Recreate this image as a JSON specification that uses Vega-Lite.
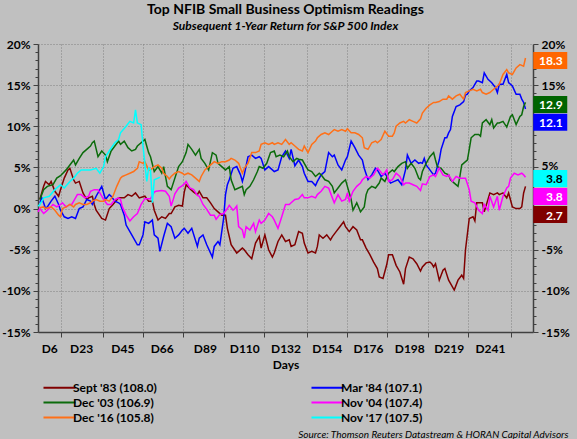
{
"$schema": "https://vega.github.io/schema/vega-lite/v6.json",
"width": 495, "height": 288,
"autosize": {"type": "none"},
"padding": {"left": 38, "top": 44, "right": 44, "bottom": 107},
"background": "#c0c0c0",
"config": {
  "view": {"stroke": null},
  "font": "Lato",
  "axis": {"labelFont": "Lato", "labelFontSize": 12, "labelFontWeight": "bold", "labelColor": "#000000", "titleFont": "Lato", "titleFontSize": 12, "titleFontWeight": "bold", "titleColor": "#000000", "domainColor": "#404040", "domainWidth": 1.5, "tickColor": "#404040", "gridColor": "#808080", "gridDash": [1, 2], "labelOverlap": false, "labelFlush": false, "labelBound": false}
},
"title": {"text": "Top NFIB Small Business Optimism Readings", "subtitle": "Subsequent 1-Year Return for S&P 500 Index", "font": "Lato", "fontSize": 14, "fontWeight": "bold", "color": "#000000", "subtitleFont": "Lato", "subtitleFontSize": 12, "subtitleFontStyle": "italic", "subtitleFontWeight": "bold", "subtitleColor": "#000000", "subtitlePadding": 4, "anchor": "middle", "frame": "group", "offset": 6},
"datasets": {
"series": [
{"s":"Sept '83 (108.0)","d":1,"v":1.1},{"s":"Sept '83 (108.0)","d":3,"v":2.7},{"s":"Sept '83 (108.0)","d":4,"v":3.3},{"s":"Sept '83 (108.0)","d":6,"v":2.9},{"s":"Sept '83 (108.0)","d":7,"v":3.3},{"s":"Sept '83 (108.0)","d":9,"v":2.1},{"s":"Sept '83 (108.0)","d":11,"v":1.5},{"s":"Sept '83 (108.0)","d":12,"v":2.3},{"s":"Sept '83 (108.0)","d":14,"v":3.7},{"s":"Sept '83 (108.0)","d":16,"v":4.7},{"s":"Sept '83 (108.0)","d":17,"v":4.9},{"s":"Sept '83 (108.0)","d":19,"v":3.5},{"s":"Sept '83 (108.0)","d":20,"v":3.1},{"s":"Sept '83 (108.0)","d":22,"v":3.3},{"s":"Sept '83 (108.0)","d":24,"v":1.9},{"s":"Sept '83 (108.0)","d":26,"v":1.1},{"s":"Sept '83 (108.0)","d":27,"v":1.3},{"s":"Sept '83 (108.0)","d":29,"v":1.5},{"s":"Sept '83 (108.0)","d":30,"v":0.5},{"s":"Sept '83 (108.0)","d":31,"v":-0.2},{"s":"Sept '83 (108.0)","d":34,"v":-1.2},{"s":"Sept '83 (108.0)","d":36,"v":-1.4},{"s":"Sept '83 (108.0)","d":38,"v":0.0},{"s":"Sept '83 (108.0)","d":40,"v":0.5},{"s":"Sept '83 (108.0)","d":43,"v":1.3},{"s":"Sept '83 (108.0)","d":46,"v":1.3},{"s":"Sept '83 (108.0)","d":48,"v":1.7},{"s":"Sept '83 (108.0)","d":50,"v":1.5},{"s":"Sept '83 (108.0)","d":52,"v":1.9},{"s":"Sept '83 (108.0)","d":54,"v":1.3},{"s":"Sept '83 (108.0)","d":57,"v":1.5},{"s":"Sept '83 (108.0)","d":59,"v":0.9},{"s":"Sept '83 (108.0)","d":61,"v":0.9},{"s":"Sept '83 (108.0)","d":62,"v":-0.2},{"s":"Sept '83 (108.0)","d":64,"v":-1.4},{"s":"Sept '83 (108.0)","d":66,"v":-1.0},{"s":"Sept '83 (108.0)","d":68,"v":-1.2},{"s":"Sept '83 (108.0)","d":70,"v":-0.6},{"s":"Sept '83 (108.0)","d":71,"v":-0.6},{"s":"Sept '83 (108.0)","d":73,"v":0.2},{"s":"Sept '83 (108.0)","d":75,"v":0.4},{"s":"Sept '83 (108.0)","d":77,"v":0.3},{"s":"Sept '83 (108.0)","d":78,"v":2.0},{"s":"Sept '83 (108.0)","d":79,"v":2.9},{"s":"Sept '83 (108.0)","d":81,"v":2.4},{"s":"Sept '83 (108.0)","d":83,"v":2.0},{"s":"Sept '83 (108.0)","d":85,"v":1.7},{"s":"Sept '83 (108.0)","d":86,"v":2.1},{"s":"Sept '83 (108.0)","d":88,"v":1.3},{"s":"Sept '83 (108.0)","d":90,"v":1.3},{"s":"Sept '83 (108.0)","d":92,"v":0.7},{"s":"Sept '83 (108.0)","d":94,"v":0.0},{"s":"Sept '83 (108.0)","d":96,"v":-0.4},{"s":"Sept '83 (108.0)","d":98,"v":-0.8},{"s":"Sept '83 (108.0)","d":100,"v":-0.8},{"s":"Sept '83 (108.0)","d":101,"v":-2.4},{"s":"Sept '83 (108.0)","d":103,"v":-4.4},{"s":"Sept '83 (108.0)","d":106,"v":-5.4},{"s":"Sept '83 (108.0)","d":107,"v":-5.2},{"s":"Sept '83 (108.0)","d":109,"v":-4.8},{"s":"Sept '83 (108.0)","d":110,"v":-5.0},{"s":"Sept '83 (108.0)","d":112,"v":-5.6},{"s":"Sept '83 (108.0)","d":114,"v":-6.1},{"s":"Sept '83 (108.0)","d":116,"v":-4.2},{"s":"Sept '83 (108.0)","d":118,"v":-3.4},{"s":"Sept '83 (108.0)","d":119,"v":-4.8},{"s":"Sept '83 (108.0)","d":121,"v":-3.2},{"s":"Sept '83 (108.0)","d":123,"v":-5.0},{"s":"Sept '83 (108.0)","d":125,"v":-5.9},{"s":"Sept '83 (108.0)","d":126,"v":-5.4},{"s":"Sept '83 (108.0)","d":128,"v":-4.0},{"s":"Sept '83 (108.0)","d":130,"v":-3.2},{"s":"Sept '83 (108.0)","d":132,"v":-4.0},{"s":"Sept '83 (108.0)","d":134,"v":-3.8},{"s":"Sept '83 (108.0)","d":135,"v":-4.6},{"s":"Sept '83 (108.0)","d":137,"v":-4.4},{"s":"Sept '83 (108.0)","d":139,"v":-2.8},{"s":"Sept '83 (108.0)","d":141,"v":-3.0},{"s":"Sept '83 (108.0)","d":142,"v":-4.2},{"s":"Sept '83 (108.0)","d":144,"v":-5.4},{"s":"Sept '83 (108.0)","d":146,"v":-5.2},{"s":"Sept '83 (108.0)","d":148,"v":-5.4},{"s":"Sept '83 (108.0)","d":149,"v":-4.6},{"s":"Sept '83 (108.0)","d":150,"v":-3.2},{"s":"Sept '83 (108.0)","d":152,"v":-3.6},{"s":"Sept '83 (108.0)","d":154,"v":-3.2},{"s":"Sept '83 (108.0)","d":156,"v":-3.8},{"s":"Sept '83 (108.0)","d":157,"v":-3.4},{"s":"Sept '83 (108.0)","d":159,"v":-2.8},{"s":"Sept '83 (108.0)","d":161,"v":-2.2},{"s":"Sept '83 (108.0)","d":163,"v":-1.6},{"s":"Sept '83 (108.0)","d":164,"v":-2.2},{"s":"Sept '83 (108.0)","d":166,"v":-2.8},{"s":"Sept '83 (108.0)","d":168,"v":-2.2},{"s":"Sept '83 (108.0)","d":170,"v":-2.6},{"s":"Sept '83 (108.0)","d":172,"v":-3.8},{"s":"Sept '83 (108.0)","d":173,"v":-3.8},{"s":"Sept '83 (108.0)","d":175,"v":-4.8},{"s":"Sept '83 (108.0)","d":177,"v":-5.6},{"s":"Sept '83 (108.0)","d":179,"v":-6.5},{"s":"Sept '83 (108.0)","d":181,"v":-7.3},{"s":"Sept '83 (108.0)","d":182,"v":-8.3},{"s":"Sept '83 (108.0)","d":184,"v":-8.5},{"s":"Sept '83 (108.0)","d":186,"v":-6.8},{"s":"Sept '83 (108.0)","d":187,"v":-5.6},{"s":"Sept '83 (108.0)","d":189,"v":-5.6},{"s":"Sept '83 (108.0)","d":191,"v":-6.9},{"s":"Sept '83 (108.0)","d":193,"v":-7.7},{"s":"Sept '83 (108.0)","d":195,"v":-9.2},{"s":"Sept '83 (108.0)","d":196,"v":-7.3},{"s":"Sept '83 (108.0)","d":198,"v":-5.9},{"s":"Sept '83 (108.0)","d":200,"v":-6.1},{"s":"Sept '83 (108.0)","d":202,"v":-6.7},{"s":"Sept '83 (108.0)","d":204,"v":-7.6},{"s":"Sept '83 (108.0)","d":205,"v":-7.1},{"s":"Sept '83 (108.0)","d":207,"v":-6.6},{"s":"Sept '83 (108.0)","d":209,"v":-6.5},{"s":"Sept '83 (108.0)","d":210,"v":-6.7},{"s":"Sept '83 (108.0)","d":211,"v":-7.1},{"s":"Sept '83 (108.0)","d":212,"v":-6.7},{"s":"Sept '83 (108.0)","d":214,"v":-8.7},{"s":"Sept '83 (108.0)","d":216,"v":-7.5},{"s":"Sept '83 (108.0)","d":217,"v":-7.3},{"s":"Sept '83 (108.0)","d":219,"v":-8.7},{"s":"Sept '83 (108.0)","d":222,"v":-9.9},{"s":"Sept '83 (108.0)","d":224,"v":-8.7},{"s":"Sept '83 (108.0)","d":226,"v":-8.1},{"s":"Sept '83 (108.0)","d":227,"v":-8.5},{"s":"Sept '83 (108.0)","d":228,"v":-5.0},{"s":"Sept '83 (108.0)","d":230,"v":-1.2},{"s":"Sept '83 (108.0)","d":232,"v":-1.0},{"s":"Sept '83 (108.0)","d":233,"v":-1.5},{"s":"Sept '83 (108.0)","d":234,"v":0.7},{"s":"Sept '83 (108.0)","d":237,"v":0.7},{"s":"Sept '83 (108.0)","d":238,"v":-0.4},{"s":"Sept '83 (108.0)","d":241,"v":1.9},{"s":"Sept '83 (108.0)","d":243,"v":1.7},{"s":"Sept '83 (108.0)","d":245,"v":1.9},{"s":"Sept '83 (108.0)","d":246,"v":1.7},{"s":"Sept '83 (108.0)","d":248,"v":1.9},{"s":"Sept '83 (108.0)","d":250,"v":1.3},{"s":"Sept '83 (108.0)","d":251,"v":1.9},{"s":"Sept '83 (108.0)","d":253,"v":0.2},{"s":"Sept '83 (108.0)","d":255,"v":0.0},{"s":"Sept '83 (108.0)","d":257,"v":0.0},{"s":"Sept '83 (108.0)","d":258,"v":0.2},{"s":"Sept '83 (108.0)","d":259,"v":1.9},{"s":"Sept '83 (108.0)","d":260,"v":2.7},
{"s":"Mar '84 (107.1)","d":1,"v":0.7},{"s":"Mar '84 (107.1)","d":2,"v":1.3},{"s":"Mar '84 (107.1)","d":3,"v":0.7},{"s":"Mar '84 (107.1)","d":4,"v":0.0},{"s":"Mar '84 (107.1)","d":5,"v":0.2},{"s":"Mar '84 (107.1)","d":7,"v":0.9},{"s":"Mar '84 (107.1)","d":9,"v":1.5},{"s":"Mar '84 (107.1)","d":11,"v":0.5},{"s":"Mar '84 (107.1)","d":12,"v":-0.2},{"s":"Mar '84 (107.1)","d":14,"v":-1.0},{"s":"Mar '84 (107.1)","d":16,"v":-1.2},{"s":"Mar '84 (107.1)","d":18,"v":-1.0},{"s":"Mar '84 (107.1)","d":20,"v":-1.2},{"s":"Mar '84 (107.1)","d":21,"v":-0.6},{"s":"Mar '84 (107.1)","d":22,"v":0.0},{"s":"Mar '84 (107.1)","d":24,"v":0.2},{"s":"Mar '84 (107.1)","d":26,"v":1.1},{"s":"Mar '84 (107.1)","d":28,"v":0.9},{"s":"Mar '84 (107.1)","d":29,"v":0.5},{"s":"Mar '84 (107.1)","d":31,"v":1.5},{"s":"Mar '84 (107.1)","d":33,"v":2.3},{"s":"Mar '84 (107.1)","d":34,"v":2.7},{"s":"Mar '84 (107.1)","d":35,"v":1.9},{"s":"Mar '84 (107.1)","d":36,"v":1.1},{"s":"Mar '84 (107.1)","d":38,"v":1.7},{"s":"Mar '84 (107.1)","d":39,"v":1.5},{"s":"Mar '84 (107.1)","d":41,"v":0.9},{"s":"Mar '84 (107.1)","d":43,"v":0.7},{"s":"Mar '84 (107.1)","d":44,"v":0.5},{"s":"Mar '84 (107.1)","d":46,"v":-0.8},{"s":"Mar '84 (107.1)","d":47,"v":-2.0},{"s":"Mar '84 (107.1)","d":50,"v":-3.2},{"s":"Mar '84 (107.1)","d":53,"v":-4.4},{"s":"Mar '84 (107.1)","d":54,"v":-4.4},{"s":"Mar '84 (107.1)","d":56,"v":-3.2},{"s":"Mar '84 (107.1)","d":57,"v":-1.6},{"s":"Mar '84 (107.1)","d":59,"v":-1.8},{"s":"Mar '84 (107.1)","d":61,"v":-1.4},{"s":"Mar '84 (107.1)","d":62,"v":-3.2},{"s":"Mar '84 (107.1)","d":64,"v":-3.6},{"s":"Mar '84 (107.1)","d":65,"v":-5.2},{"s":"Mar '84 (107.1)","d":67,"v":-3.4},{"s":"Mar '84 (107.1)","d":69,"v":-1.8},{"s":"Mar '84 (107.1)","d":71,"v":-2.2},{"s":"Mar '84 (107.1)","d":73,"v":-3.6},{"s":"Mar '84 (107.1)","d":75,"v":-3.2},{"s":"Mar '84 (107.1)","d":77,"v":-2.6},{"s":"Mar '84 (107.1)","d":78,"v":-2.4},{"s":"Mar '84 (107.1)","d":80,"v":-3.0},{"s":"Mar '84 (107.1)","d":82,"v":-2.4},{"s":"Mar '84 (107.1)","d":85,"v":-4.6},{"s":"Mar '84 (107.1)","d":86,"v":-3.6},{"s":"Mar '84 (107.1)","d":88,"v":-3.2},{"s":"Mar '84 (107.1)","d":90,"v":-4.4},{"s":"Mar '84 (107.1)","d":93,"v":-5.9},{"s":"Mar '84 (107.1)","d":94,"v":-4.6},{"s":"Mar '84 (107.1)","d":96,"v":-4.0},{"s":"Mar '84 (107.1)","d":97,"v":-4.4},{"s":"Mar '84 (107.1)","d":99,"v":-1.2},{"s":"Mar '84 (107.1)","d":100,"v":1.7},{"s":"Mar '84 (107.1)","d":101,"v":2.9},{"s":"Mar '84 (107.1)","d":102,"v":3.5},{"s":"Mar '84 (107.1)","d":104,"v":4.9},{"s":"Mar '84 (107.1)","d":106,"v":5.1},{"s":"Mar '84 (107.1)","d":108,"v":4.1},{"s":"Mar '84 (107.1)","d":109,"v":3.3},{"s":"Mar '84 (107.1)","d":110,"v":4.1},{"s":"Mar '84 (107.1)","d":112,"v":6.3},{"s":"Mar '84 (107.1)","d":114,"v":6.5},{"s":"Mar '84 (107.1)","d":116,"v":6.1},{"s":"Mar '84 (107.1)","d":118,"v":6.3},{"s":"Mar '84 (107.1)","d":119,"v":6.1},{"s":"Mar '84 (107.1)","d":121,"v":4.7},{"s":"Mar '84 (107.1)","d":123,"v":5.1},{"s":"Mar '84 (107.1)","d":125,"v":4.7},{"s":"Mar '84 (107.1)","d":126,"v":4.5},{"s":"Mar '84 (107.1)","d":128,"v":4.7},{"s":"Mar '84 (107.1)","d":130,"v":6.3},{"s":"Mar '84 (107.1)","d":132,"v":7.0},{"s":"Mar '84 (107.1)","d":134,"v":6.1},{"s":"Mar '84 (107.1)","d":135,"v":7.2},{"s":"Mar '84 (107.1)","d":137,"v":5.2},{"s":"Mar '84 (107.1)","d":139,"v":5.9},{"s":"Mar '84 (107.1)","d":141,"v":5.1},{"s":"Mar '84 (107.1)","d":142,"v":4.3},{"s":"Mar '84 (107.1)","d":144,"v":3.3},{"s":"Mar '84 (107.1)","d":146,"v":3.3},{"s":"Mar '84 (107.1)","d":148,"v":2.8},{"s":"Mar '84 (107.1)","d":149,"v":3.3},{"s":"Mar '84 (107.1)","d":151,"v":4.1},{"s":"Mar '84 (107.1)","d":153,"v":4.5},{"s":"Mar '84 (107.1)","d":155,"v":6.8},{"s":"Mar '84 (107.1)","d":157,"v":6.3},{"s":"Mar '84 (107.1)","d":158,"v":6.5},{"s":"Mar '84 (107.1)","d":160,"v":5.3},{"s":"Mar '84 (107.1)","d":162,"v":4.7},{"s":"Mar '84 (107.1)","d":164,"v":5.9},{"s":"Mar '84 (107.1)","d":165,"v":6.3},{"s":"Mar '84 (107.1)","d":167,"v":8.2},{"s":"Mar '84 (107.1)","d":169,"v":7.4},{"s":"Mar '84 (107.1)","d":171,"v":6.5},{"s":"Mar '84 (107.1)","d":173,"v":5.9},{"s":"Mar '84 (107.1)","d":174,"v":4.9},{"s":"Mar '84 (107.1)","d":176,"v":3.5},{"s":"Mar '84 (107.1)","d":178,"v":4.1},{"s":"Mar '84 (107.1)","d":180,"v":4.9},{"s":"Mar '84 (107.1)","d":181,"v":4.7},{"s":"Mar '84 (107.1)","d":183,"v":3.9},{"s":"Mar '84 (107.1)","d":185,"v":4.3},{"s":"Mar '84 (107.1)","d":186,"v":3.9},{"s":"Mar '84 (107.1)","d":188,"v":3.1},{"s":"Mar '84 (107.1)","d":190,"v":3.3},{"s":"Mar '84 (107.1)","d":192,"v":3.5},{"s":"Mar '84 (107.1)","d":194,"v":2.9},{"s":"Mar '84 (107.1)","d":196,"v":4.7},{"s":"Mar '84 (107.1)","d":197,"v":6.5},{"s":"Mar '84 (107.1)","d":199,"v":5.5},{"s":"Mar '84 (107.1)","d":201,"v":5.9},{"s":"Mar '84 (107.1)","d":203,"v":5.5},{"s":"Mar '84 (107.1)","d":204,"v":5.6},{"s":"Mar '84 (107.1)","d":205,"v":5.5},{"s":"Mar '84 (107.1)","d":206,"v":6.1},{"s":"Mar '84 (107.1)","d":207,"v":5.3},{"s":"Mar '84 (107.1)","d":209,"v":4.7},{"s":"Mar '84 (107.1)","d":211,"v":4.1},{"s":"Mar '84 (107.1)","d":212,"v":4.3},{"s":"Mar '84 (107.1)","d":214,"v":5.9},{"s":"Mar '84 (107.1)","d":215,"v":7.2},{"s":"Mar '84 (107.1)","d":217,"v":8.6},{"s":"Mar '84 (107.1)","d":218,"v":8.6},{"s":"Mar '84 (107.1)","d":219,"v":9.2},{"s":"Mar '84 (107.1)","d":220,"v":9.6},{"s":"Mar '84 (107.1)","d":221,"v":11.2},{"s":"Mar '84 (107.1)","d":223,"v":12.4},{"s":"Mar '84 (107.1)","d":225,"v":12.6},{"s":"Mar '84 (107.1)","d":227,"v":13.0},{"s":"Mar '84 (107.1)","d":228,"v":13.8},{"s":"Mar '84 (107.1)","d":229,"v":13.9},{"s":"Mar '84 (107.1)","d":230,"v":14.3},{"s":"Mar '84 (107.1)","d":232,"v":14.7},{"s":"Mar '84 (107.1)","d":234,"v":15.5},{"s":"Mar '84 (107.1)","d":235,"v":15.5},{"s":"Mar '84 (107.1)","d":237,"v":15.3},{"s":"Mar '84 (107.1)","d":238,"v":16.5},{"s":"Mar '84 (107.1)","d":240,"v":15.7},{"s":"Mar '84 (107.1)","d":242,"v":15.3},{"s":"Mar '84 (107.1)","d":244,"v":14.7},{"s":"Mar '84 (107.1)","d":245,"v":14.1},{"s":"Mar '84 (107.1)","d":246,"v":15.1},{"s":"Mar '84 (107.1)","d":248,"v":15.1},{"s":"Mar '84 (107.1)","d":250,"v":16.3},{"s":"Mar '84 (107.1)","d":251,"v":15.3},{"s":"Mar '84 (107.1)","d":253,"v":14.9},{"s":"Mar '84 (107.1)","d":255,"v":13.9},{"s":"Mar '84 (107.1)","d":257,"v":13.9},{"s":"Mar '84 (107.1)","d":258,"v":13.3},{"s":"Mar '84 (107.1)","d":259,"v":12.9},{"s":"Mar '84 (107.1)","d":260,"v":12.1},
{"s":"Dec '03 (106.9)","d":1,"v":1.1},{"s":"Dec '03 (106.9)","d":3,"v":2.3},{"s":"Dec '03 (106.9)","d":5,"v":2.7},{"s":"Dec '03 (106.9)","d":8,"v":2.9},{"s":"Dec '03 (106.9)","d":10,"v":3.7},{"s":"Dec '03 (106.9)","d":12,"v":4.0},{"s":"Dec '03 (106.9)","d":15,"v":4.7},{"s":"Dec '03 (106.9)","d":17,"v":5.3},{"s":"Dec '03 (106.9)","d":19,"v":5.9},{"s":"Dec '03 (106.9)","d":20,"v":5.3},{"s":"Dec '03 (106.9)","d":22,"v":6.1},{"s":"Dec '03 (106.9)","d":24,"v":6.8},{"s":"Dec '03 (106.9)","d":26,"v":7.2},{"s":"Dec '03 (106.9)","d":28,"v":7.6},{"s":"Dec '03 (106.9)","d":29,"v":8.0},{"s":"Dec '03 (106.9)","d":30,"v":8.2},{"s":"Dec '03 (106.9)","d":32,"v":6.3},{"s":"Dec '03 (106.9)","d":34,"v":7.0},{"s":"Dec '03 (106.9)","d":36,"v":6.5},{"s":"Dec '03 (106.9)","d":37,"v":5.7},{"s":"Dec '03 (106.9)","d":39,"v":7.0},{"s":"Dec '03 (106.9)","d":41,"v":7.6},{"s":"Dec '03 (106.9)","d":43,"v":8.2},{"s":"Dec '03 (106.9)","d":44,"v":7.8},{"s":"Dec '03 (106.9)","d":46,"v":8.2},{"s":"Dec '03 (106.9)","d":48,"v":7.4},{"s":"Dec '03 (106.9)","d":50,"v":7.0},{"s":"Dec '03 (106.9)","d":52,"v":7.2},{"s":"Dec '03 (106.9)","d":53,"v":7.6},{"s":"Dec '03 (106.9)","d":55,"v":8.0},{"s":"Dec '03 (106.9)","d":57,"v":8.4},{"s":"Dec '03 (106.9)","d":59,"v":6.8},{"s":"Dec '03 (106.9)","d":60,"v":6.3},{"s":"Dec '03 (106.9)","d":62,"v":4.5},{"s":"Dec '03 (106.9)","d":64,"v":5.1},{"s":"Dec '03 (106.9)","d":66,"v":4.3},{"s":"Dec '03 (106.9)","d":67,"v":5.1},{"s":"Dec '03 (106.9)","d":69,"v":2.7},{"s":"Dec '03 (106.9)","d":71,"v":2.3},{"s":"Dec '03 (106.9)","d":73,"v":3.7},{"s":"Dec '03 (106.9)","d":75,"v":5.1},{"s":"Dec '03 (106.9)","d":77,"v":5.7},{"s":"Dec '03 (106.9)","d":79,"v":6.8},{"s":"Dec '03 (106.9)","d":80,"v":7.8},{"s":"Dec '03 (106.9)","d":82,"v":7.2},{"s":"Dec '03 (106.9)","d":84,"v":6.5},{"s":"Dec '03 (106.9)","d":86,"v":7.2},{"s":"Dec '03 (106.9)","d":87,"v":6.1},{"s":"Dec '03 (106.9)","d":89,"v":5.5},{"s":"Dec '03 (106.9)","d":91,"v":4.7},{"s":"Dec '03 (106.9)","d":93,"v":6.8},{"s":"Dec '03 (106.9)","d":95,"v":6.5},{"s":"Dec '03 (106.9)","d":96,"v":5.5},{"s":"Dec '03 (106.9)","d":98,"v":5.1},{"s":"Dec '03 (106.9)","d":100,"v":4.7},{"s":"Dec '03 (106.9)","d":102,"v":5.1},{"s":"Dec '03 (106.9)","d":103,"v":3.5},{"s":"Dec '03 (106.9)","d":105,"v":2.3},{"s":"Dec '03 (106.9)","d":107,"v":2.5},{"s":"Dec '03 (106.9)","d":109,"v":2.7},{"s":"Dec '03 (106.9)","d":110,"v":1.7},{"s":"Dec '03 (106.9)","d":111,"v":2.3},{"s":"Dec '03 (106.9)","d":113,"v":2.7},{"s":"Dec '03 (106.9)","d":115,"v":3.5},{"s":"Dec '03 (106.9)","d":117,"v":4.5},{"s":"Dec '03 (106.9)","d":118,"v":5.1},{"s":"Dec '03 (106.9)","d":120,"v":4.9},{"s":"Dec '03 (106.9)","d":122,"v":5.5},{"s":"Dec '03 (106.9)","d":124,"v":6.8},{"s":"Dec '03 (106.9)","d":126,"v":7.0},{"s":"Dec '03 (106.9)","d":127,"v":6.3},{"s":"Dec '03 (106.9)","d":129,"v":6.5},{"s":"Dec '03 (106.9)","d":131,"v":6.3},{"s":"Dec '03 (106.9)","d":133,"v":7.0},{"s":"Dec '03 (106.9)","d":134,"v":6.3},{"s":"Dec '03 (106.9)","d":136,"v":5.7},{"s":"Dec '03 (106.9)","d":138,"v":6.1},{"s":"Dec '03 (106.9)","d":139,"v":6.0},{"s":"Dec '03 (106.9)","d":141,"v":5.9},{"s":"Dec '03 (106.9)","d":142,"v":5.5},{"s":"Dec '03 (106.9)","d":144,"v":4.7},{"s":"Dec '03 (106.9)","d":146,"v":4.5},{"s":"Dec '03 (106.9)","d":148,"v":3.9},{"s":"Dec '03 (106.9)","d":150,"v":4.3},{"s":"Dec '03 (106.9)","d":151,"v":4.1},{"s":"Dec '03 (106.9)","d":153,"v":3.5},{"s":"Dec '03 (106.9)","d":155,"v":3.3},{"s":"Dec '03 (106.9)","d":157,"v":2.7},{"s":"Dec '03 (106.9)","d":158,"v":1.9},{"s":"Dec '03 (106.9)","d":160,"v":2.5},{"s":"Dec '03 (106.9)","d":162,"v":3.1},{"s":"Dec '03 (106.9)","d":164,"v":3.5},{"s":"Dec '03 (106.9)","d":165,"v":2.7},{"s":"Dec '03 (106.9)","d":167,"v":1.1},{"s":"Dec '03 (106.9)","d":168,"v":-0.2},{"s":"Dec '03 (106.9)","d":170,"v":0.7},{"s":"Dec '03 (106.9)","d":172,"v":-0.4},{"s":"Dec '03 (106.9)","d":174,"v":0.2},{"s":"Dec '03 (106.9)","d":175,"v":1.7},{"s":"Dec '03 (106.9)","d":176,"v":2.3},{"s":"Dec '03 (106.9)","d":178,"v":2.7},{"s":"Dec '03 (106.9)","d":180,"v":2.5},{"s":"Dec '03 (106.9)","d":182,"v":3.1},{"s":"Dec '03 (106.9)","d":183,"v":3.7},{"s":"Dec '03 (106.9)","d":185,"v":3.3},{"s":"Dec '03 (106.9)","d":187,"v":4.3},{"s":"Dec '03 (106.9)","d":189,"v":4.7},{"s":"Dec '03 (106.9)","d":190,"v":4.5},{"s":"Dec '03 (106.9)","d":192,"v":5.1},{"s":"Dec '03 (106.9)","d":194,"v":5.5},{"s":"Dec '03 (106.9)","d":196,"v":5.7},{"s":"Dec '03 (106.9)","d":197,"v":4.9},{"s":"Dec '03 (106.9)","d":199,"v":5.5},{"s":"Dec '03 (106.9)","d":201,"v":4.9},{"s":"Dec '03 (106.9)","d":203,"v":3.7},{"s":"Dec '03 (106.9)","d":204,"v":3.5},{"s":"Dec '03 (106.9)","d":205,"v":4.5},{"s":"Dec '03 (106.9)","d":207,"v":5.5},{"s":"Dec '03 (106.9)","d":209,"v":6.3},{"s":"Dec '03 (106.9)","d":211,"v":6.8},{"s":"Dec '03 (106.9)","d":212,"v":5.9},{"s":"Dec '03 (106.9)","d":213,"v":5.1},{"s":"Dec '03 (106.9)","d":215,"v":4.9},{"s":"Dec '03 (106.9)","d":217,"v":4.3},{"s":"Dec '03 (106.9)","d":219,"v":4.1},{"s":"Dec '03 (106.9)","d":220,"v":3.5},{"s":"Dec '03 (106.9)","d":222,"v":3.1},{"s":"Dec '03 (106.9)","d":224,"v":2.7},{"s":"Dec '03 (106.9)","d":225,"v":3.9},{"s":"Dec '03 (106.9)","d":226,"v":5.3},{"s":"Dec '03 (106.9)","d":228,"v":5.7},{"s":"Dec '03 (106.9)","d":229,"v":5.9},{"s":"Dec '03 (106.9)","d":230,"v":7.2},{"s":"Dec '03 (106.9)","d":231,"v":8.6},{"s":"Dec '03 (106.9)","d":233,"v":9.0},{"s":"Dec '03 (106.9)","d":235,"v":9.0},{"s":"Dec '03 (106.9)","d":236,"v":8.8},{"s":"Dec '03 (106.9)","d":237,"v":10.4},{"s":"Dec '03 (106.9)","d":239,"v":10.8},{"s":"Dec '03 (106.9)","d":241,"v":10.2},{"s":"Dec '03 (106.9)","d":242,"v":10.8},{"s":"Dec '03 (106.9)","d":243,"v":9.8},{"s":"Dec '03 (106.9)","d":245,"v":10.4},{"s":"Dec '03 (106.9)","d":246,"v":10.4},{"s":"Dec '03 (106.9)","d":248,"v":10.6},{"s":"Dec '03 (106.9)","d":250,"v":9.9},{"s":"Dec '03 (106.9)","d":252,"v":11.2},{"s":"Dec '03 (106.9)","d":253,"v":11.4},{"s":"Dec '03 (106.9)","d":255,"v":10.2},{"s":"Dec '03 (106.9)","d":257,"v":11.2},{"s":"Dec '03 (106.9)","d":258,"v":11.4},{"s":"Dec '03 (106.9)","d":259,"v":12.4},{"s":"Dec '03 (106.9)","d":260,"v":12.9},
{"s":"Nov '04 (107.4)","d":0,"v":-0.4},{"s":"Nov '04 (107.4)","d":1,"v":0.0},{"s":"Nov '04 (107.4)","d":3,"v":-0.6},{"s":"Nov '04 (107.4)","d":4,"v":-0.4},{"s":"Nov '04 (107.4)","d":6,"v":0.0},{"s":"Nov '04 (107.4)","d":8,"v":0.5},{"s":"Nov '04 (107.4)","d":10,"v":0.2},{"s":"Nov '04 (107.4)","d":12,"v":0.5},{"s":"Nov '04 (107.4)","d":13,"v":0.7},{"s":"Nov '04 (107.4)","d":15,"v":0.2},{"s":"Nov '04 (107.4)","d":17,"v":0.5},{"s":"Nov '04 (107.4)","d":18,"v":0.5},{"s":"Nov '04 (107.4)","d":20,"v":1.3},{"s":"Nov '04 (107.4)","d":21,"v":1.7},{"s":"Nov '04 (107.4)","d":23,"v":1.7},{"s":"Nov '04 (107.4)","d":25,"v":1.3},{"s":"Nov '04 (107.4)","d":27,"v":1.5},{"s":"Nov '04 (107.4)","d":28,"v":2.1},{"s":"Nov '04 (107.4)","d":30,"v":2.3},{"s":"Nov '04 (107.4)","d":32,"v":2.3},{"s":"Nov '04 (107.4)","d":34,"v":1.5},{"s":"Nov '04 (107.4)","d":35,"v":1.1},{"s":"Nov '04 (107.4)","d":37,"v":0.5},{"s":"Nov '04 (107.4)","d":39,"v":0.5},{"s":"Nov '04 (107.4)","d":41,"v":1.1},{"s":"Nov '04 (107.4)","d":43,"v":1.3},{"s":"Nov '04 (107.4)","d":44,"v":1.1},{"s":"Nov '04 (107.4)","d":45,"v":0.2},{"s":"Nov '04 (107.4)","d":47,"v":-0.8},{"s":"Nov '04 (107.4)","d":49,"v":-1.5},{"s":"Nov '04 (107.4)","d":51,"v":-1.0},{"s":"Nov '04 (107.4)","d":53,"v":-0.6},{"s":"Nov '04 (107.4)","d":55,"v":0.5},{"s":"Nov '04 (107.4)","d":57,"v":1.2},{"s":"Nov '04 (107.4)","d":60,"v":1.2},{"s":"Nov '04 (107.4)","d":62,"v":2.0},{"s":"Nov '04 (107.4)","d":63,"v":2.1},{"s":"Nov '04 (107.4)","d":66,"v":2.2},{"s":"Nov '04 (107.4)","d":68,"v":2.1},{"s":"Nov '04 (107.4)","d":70,"v":1.5},{"s":"Nov '04 (107.4)","d":71,"v":0.3},{"s":"Nov '04 (107.4)","d":72,"v":1.0},{"s":"Nov '04 (107.4)","d":73,"v":1.8},{"s":"Nov '04 (107.4)","d":75,"v":2.5},{"s":"Nov '04 (107.4)","d":77,"v":2.8},{"s":"Nov '04 (107.4)","d":78,"v":3.0},{"s":"Nov '04 (107.4)","d":79,"v":3.3},{"s":"Nov '04 (107.4)","d":81,"v":2.5},{"s":"Nov '04 (107.4)","d":83,"v":2.3},{"s":"Nov '04 (107.4)","d":85,"v":1.6},{"s":"Nov '04 (107.4)","d":86,"v":1.5},{"s":"Nov '04 (107.4)","d":88,"v":0.5},{"s":"Nov '04 (107.4)","d":90,"v":-0.1},{"s":"Nov '04 (107.4)","d":92,"v":-0.8},{"s":"Nov '04 (107.4)","d":94,"v":-0.8},{"s":"Nov '04 (107.4)","d":95,"v":-1.3},{"s":"Nov '04 (107.4)","d":97,"v":-0.7},{"s":"Nov '04 (107.4)","d":99,"v":-0.6},{"s":"Nov '04 (107.4)","d":101,"v":0.0},{"s":"Nov '04 (107.4)","d":102,"v":0.4},{"s":"Nov '04 (107.4)","d":104,"v":-0.2},{"s":"Nov '04 (107.4)","d":105,"v":0.0},{"s":"Nov '04 (107.4)","d":106,"v":0.3},{"s":"Nov '04 (107.4)","d":107,"v":-2.2},{"s":"Nov '04 (107.4)","d":109,"v":-2.6},{"s":"Nov '04 (107.4)","d":110,"v":-3.6},{"s":"Nov '04 (107.4)","d":111,"v":-2.2},{"s":"Nov '04 (107.4)","d":113,"v":-2.6},{"s":"Nov '04 (107.4)","d":115,"v":-1.8},{"s":"Nov '04 (107.4)","d":116,"v":-2.8},{"s":"Nov '04 (107.4)","d":118,"v":-1.4},{"s":"Nov '04 (107.4)","d":119,"v":-1.8},{"s":"Nov '04 (107.4)","d":121,"v":-1.4},{"s":"Nov '04 (107.4)","d":123,"v":-0.6},{"s":"Nov '04 (107.4)","d":125,"v":-1.0},{"s":"Nov '04 (107.4)","d":126,"v":-1.4},{"s":"Nov '04 (107.4)","d":128,"v":-2.4},{"s":"Nov '04 (107.4)","d":130,"v":-1.0},{"s":"Nov '04 (107.4)","d":132,"v":0.5},{"s":"Nov '04 (107.4)","d":134,"v":0.5},{"s":"Nov '04 (107.4)","d":135,"v":0.7},{"s":"Nov '04 (107.4)","d":137,"v":1.1},{"s":"Nov '04 (107.4)","d":139,"v":1.2},{"s":"Nov '04 (107.4)","d":141,"v":1.7},{"s":"Nov '04 (107.4)","d":142,"v":1.3},{"s":"Nov '04 (107.4)","d":144,"v":1.3},{"s":"Nov '04 (107.4)","d":146,"v":1.5},{"s":"Nov '04 (107.4)","d":148,"v":1.3},{"s":"Nov '04 (107.4)","d":149,"v":1.7},{"s":"Nov '04 (107.4)","d":151,"v":2.1},{"s":"Nov '04 (107.4)","d":153,"v":2.7},{"s":"Nov '04 (107.4)","d":155,"v":2.5},{"s":"Nov '04 (107.4)","d":157,"v":1.3},{"s":"Nov '04 (107.4)","d":158,"v":0.7},{"s":"Nov '04 (107.4)","d":160,"v":1.7},{"s":"Nov '04 (107.4)","d":162,"v":0.9},{"s":"Nov '04 (107.4)","d":164,"v":1.1},{"s":"Nov '04 (107.4)","d":165,"v":1.9},{"s":"Nov '04 (107.4)","d":166,"v":0.9},{"s":"Nov '04 (107.4)","d":168,"v":2.1},{"s":"Nov '04 (107.4)","d":170,"v":2.7},{"s":"Nov '04 (107.4)","d":172,"v":3.1},{"s":"Nov '04 (107.4)","d":173,"v":3.5},{"s":"Nov '04 (107.4)","d":175,"v":3.9},{"s":"Nov '04 (107.4)","d":177,"v":3.7},{"s":"Nov '04 (107.4)","d":179,"v":4.1},{"s":"Nov '04 (107.4)","d":181,"v":4.9},{"s":"Nov '04 (107.4)","d":182,"v":4.7},{"s":"Nov '04 (107.4)","d":184,"v":4.1},{"s":"Nov '04 (107.4)","d":186,"v":4.7},{"s":"Nov '04 (107.4)","d":187,"v":3.3},{"s":"Nov '04 (107.4)","d":189,"v":3.5},{"s":"Nov '04 (107.4)","d":191,"v":4.3},{"s":"Nov '04 (107.4)","d":193,"v":3.9},{"s":"Nov '04 (107.4)","d":195,"v":2.9},{"s":"Nov '04 (107.4)","d":196,"v":3.1},{"s":"Nov '04 (107.4)","d":198,"v":3.1},{"s":"Nov '04 (107.4)","d":200,"v":2.9},{"s":"Nov '04 (107.4)","d":202,"v":2.7},{"s":"Nov '04 (107.4)","d":204,"v":2.2},{"s":"Nov '04 (107.4)","d":205,"v":3.0},{"s":"Nov '04 (107.4)","d":207,"v":2.9},{"s":"Nov '04 (107.4)","d":209,"v":3.9},{"s":"Nov '04 (107.4)","d":211,"v":4.1},{"s":"Nov '04 (107.4)","d":212,"v":3.9},{"s":"Nov '04 (107.4)","d":214,"v":4.9},{"s":"Nov '04 (107.4)","d":216,"v":4.1},{"s":"Nov '04 (107.4)","d":218,"v":3.9},{"s":"Nov '04 (107.4)","d":219,"v":4.1},{"s":"Nov '04 (107.4)","d":221,"v":3.3},{"s":"Nov '04 (107.4)","d":223,"v":3.9},{"s":"Nov '04 (107.4)","d":225,"v":3.7},{"s":"Nov '04 (107.4)","d":227,"v":3.7},{"s":"Nov '04 (107.4)","d":228,"v":3.7},{"s":"Nov '04 (107.4)","d":230,"v":2.3},{"s":"Nov '04 (107.4)","d":231,"v":0.9},{"s":"Nov '04 (107.4)","d":233,"v":0.7},{"s":"Nov '04 (107.4)","d":235,"v":-0.2},{"s":"Nov '04 (107.4)","d":237,"v":-0.6},{"s":"Nov '04 (107.4)","d":238,"v":0.5},{"s":"Nov '04 (107.4)","d":240,"v":-0.2},{"s":"Nov '04 (107.4)","d":241,"v":1.5},{"s":"Nov '04 (107.4)","d":243,"v":0.2},{"s":"Nov '04 (107.4)","d":245,"v":1.5},{"s":"Nov '04 (107.4)","d":246,"v":-0.2},{"s":"Nov '04 (107.4)","d":248,"v":1.5},{"s":"Nov '04 (107.4)","d":250,"v":2.5},{"s":"Nov '04 (107.4)","d":251,"v":2.7},{"s":"Nov '04 (107.4)","d":252,"v":3.7},{"s":"Nov '04 (107.4)","d":254,"v":4.3},{"s":"Nov '04 (107.4)","d":256,"v":4.1},{"s":"Nov '04 (107.4)","d":258,"v":4.3},{"s":"Nov '04 (107.4)","d":259,"v":4.1},{"s":"Nov '04 (107.4)","d":260,"v":3.8},
{"s":"Dec '16 (105.8)","d":1,"v":0.1},{"s":"Dec '16 (105.8)","d":3,"v":0.2},{"s":"Dec '16 (105.8)","d":4,"v":0.0},{"s":"Dec '16 (105.8)","d":7,"v":0.2},{"s":"Dec '16 (105.8)","d":9,"v":-0.2},{"s":"Dec '16 (105.8)","d":11,"v":-0.8},{"s":"Dec '16 (105.8)","d":12,"v":-1.0},{"s":"Dec '16 (105.8)","d":13,"v":0.0},{"s":"Dec '16 (105.8)","d":15,"v":0.2},{"s":"Dec '16 (105.8)","d":17,"v":0.5},{"s":"Dec '16 (105.8)","d":19,"v":0.2},{"s":"Dec '16 (105.8)","d":20,"v":0.5},{"s":"Dec '16 (105.8)","d":22,"v":0.7},{"s":"Dec '16 (105.8)","d":24,"v":0.5},{"s":"Dec '16 (105.8)","d":26,"v":0.5},{"s":"Dec '16 (105.8)","d":28,"v":0.7},{"s":"Dec '16 (105.8)","d":29,"v":0.9},{"s":"Dec '16 (105.8)","d":31,"v":1.1},{"s":"Dec '16 (105.8)","d":33,"v":0.9},{"s":"Dec '16 (105.8)","d":35,"v":0.9},{"s":"Dec '16 (105.8)","d":36,"v":1.1},{"s":"Dec '16 (105.8)","d":38,"v":0.9},{"s":"Dec '16 (105.8)","d":40,"v":1.5},{"s":"Dec '16 (105.8)","d":42,"v":2.7},{"s":"Dec '16 (105.8)","d":44,"v":3.7},{"s":"Dec '16 (105.8)","d":45,"v":3.9},{"s":"Dec '16 (105.8)","d":47,"v":4.1},{"s":"Dec '16 (105.8)","d":49,"v":4.3},{"s":"Dec '16 (105.8)","d":51,"v":4.5},{"s":"Dec '16 (105.8)","d":52,"v":4.7},{"s":"Dec '16 (105.8)","d":53,"v":4.9},{"s":"Dec '16 (105.8)","d":54,"v":5.7},{"s":"Dec '16 (105.8)","d":56,"v":5.5},{"s":"Dec '16 (105.8)","d":57,"v":5.7},{"s":"Dec '16 (105.8)","d":59,"v":4.7},{"s":"Dec '16 (105.8)","d":60,"v":4.7},{"s":"Dec '16 (105.8)","d":62,"v":5.1},{"s":"Dec '16 (105.8)","d":64,"v":5.3},{"s":"Dec '16 (105.8)","d":66,"v":4.9},{"s":"Dec '16 (105.8)","d":67,"v":4.3},{"s":"Dec '16 (105.8)","d":69,"v":3.9},{"s":"Dec '16 (105.8)","d":70,"v":3.6},{"s":"Dec '16 (105.8)","d":71,"v":3.9},{"s":"Dec '16 (105.8)","d":73,"v":4.3},{"s":"Dec '16 (105.8)","d":75,"v":4.5},{"s":"Dec '16 (105.8)","d":77,"v":4.3},{"s":"Dec '16 (105.8)","d":78,"v":4.1},{"s":"Dec '16 (105.8)","d":80,"v":4.3},{"s":"Dec '16 (105.8)","d":82,"v":4.1},{"s":"Dec '16 (105.8)","d":84,"v":3.7},{"s":"Dec '16 (105.8)","d":86,"v":3.3},{"s":"Dec '16 (105.8)","d":87,"v":3.9},{"s":"Dec '16 (105.8)","d":89,"v":4.7},{"s":"Dec '16 (105.8)","d":91,"v":5.1},{"s":"Dec '16 (105.8)","d":93,"v":5.5},{"s":"Dec '16 (105.8)","d":94,"v":5.7},{"s":"Dec '16 (105.8)","d":96,"v":5.5},{"s":"Dec '16 (105.8)","d":98,"v":5.7},{"s":"Dec '16 (105.8)","d":100,"v":5.7},{"s":"Dec '16 (105.8)","d":102,"v":5.9},{"s":"Dec '16 (105.8)","d":103,"v":6.1},{"s":"Dec '16 (105.8)","d":105,"v":5.9},{"s":"Dec '16 (105.8)","d":107,"v":5.5},{"s":"Dec '16 (105.8)","d":109,"v":4.3},{"s":"Dec '16 (105.8)","d":110,"v":4.9},{"s":"Dec '16 (105.8)","d":112,"v":5.5},{"s":"Dec '16 (105.8)","d":114,"v":6.8},{"s":"Dec '16 (105.8)","d":116,"v":6.8},{"s":"Dec '16 (105.8)","d":118,"v":7.0},{"s":"Dec '16 (105.8)","d":119,"v":7.8},{"s":"Dec '16 (105.8)","d":121,"v":8.0},{"s":"Dec '16 (105.8)","d":123,"v":7.8},{"s":"Dec '16 (105.8)","d":125,"v":8.0},{"s":"Dec '16 (105.8)","d":126,"v":7.8},{"s":"Dec '16 (105.8)","d":128,"v":8.0},{"s":"Dec '16 (105.8)","d":130,"v":7.8},{"s":"Dec '16 (105.8)","d":132,"v":8.4},{"s":"Dec '16 (105.8)","d":134,"v":7.8},{"s":"Dec '16 (105.8)","d":135,"v":8.0},{"s":"Dec '16 (105.8)","d":137,"v":7.6},{"s":"Dec '16 (105.8)","d":139,"v":7.2},{"s":"Dec '16 (105.8)","d":141,"v":7.0},{"s":"Dec '16 (105.8)","d":142,"v":7.6},{"s":"Dec '16 (105.8)","d":144,"v":6.8},{"s":"Dec '16 (105.8)","d":146,"v":7.8},{"s":"Dec '16 (105.8)","d":148,"v":8.2},{"s":"Dec '16 (105.8)","d":149,"v":8.6},{"s":"Dec '16 (105.8)","d":151,"v":9.0},{"s":"Dec '16 (105.8)","d":153,"v":9.2},{"s":"Dec '16 (105.8)","d":155,"v":9.0},{"s":"Dec '16 (105.8)","d":157,"v":9.4},{"s":"Dec '16 (105.8)","d":158,"v":9.6},{"s":"Dec '16 (105.8)","d":160,"v":9.4},{"s":"Dec '16 (105.8)","d":162,"v":9.6},{"s":"Dec '16 (105.8)","d":164,"v":9.4},{"s":"Dec '16 (105.8)","d":165,"v":9.7},{"s":"Dec '16 (105.8)","d":167,"v":9.2},{"s":"Dec '16 (105.8)","d":169,"v":9.2},{"s":"Dec '16 (105.8)","d":171,"v":9.0},{"s":"Dec '16 (105.8)","d":173,"v":8.6},{"s":"Dec '16 (105.8)","d":174,"v":7.4},{"s":"Dec '16 (105.8)","d":176,"v":7.2},{"s":"Dec '16 (105.8)","d":178,"v":8.0},{"s":"Dec '16 (105.8)","d":180,"v":8.2},{"s":"Dec '16 (105.8)","d":181,"v":8.0},{"s":"Dec '16 (105.8)","d":183,"v":8.4},{"s":"Dec '16 (105.8)","d":185,"v":9.4},{"s":"Dec '16 (105.8)","d":187,"v":8.8},{"s":"Dec '16 (105.8)","d":189,"v":8.8},{"s":"Dec '16 (105.8)","d":190,"v":9.2},{"s":"Dec '16 (105.8)","d":191,"v":10.0},{"s":"Dec '16 (105.8)","d":193,"v":10.4},{"s":"Dec '16 (105.8)","d":195,"v":10.6},{"s":"Dec '16 (105.8)","d":196,"v":10.4},{"s":"Dec '16 (105.8)","d":198,"v":10.8},{"s":"Dec '16 (105.8)","d":200,"v":10.6},{"s":"Dec '16 (105.8)","d":202,"v":10.4},{"s":"Dec '16 (105.8)","d":204,"v":10.9},{"s":"Dec '16 (105.8)","d":205,"v":11.6},{"s":"Dec '16 (105.8)","d":207,"v":12.2},{"s":"Dec '16 (105.8)","d":209,"v":12.6},{"s":"Dec '16 (105.8)","d":211,"v":12.9},{"s":"Dec '16 (105.8)","d":212,"v":12.9},{"s":"Dec '16 (105.8)","d":214,"v":13.0},{"s":"Dec '16 (105.8)","d":216,"v":13.3},{"s":"Dec '16 (105.8)","d":218,"v":13.3},{"s":"Dec '16 (105.8)","d":219,"v":13.7},{"s":"Dec '16 (105.8)","d":221,"v":13.3},{"s":"Dec '16 (105.8)","d":223,"v":13.7},{"s":"Dec '16 (105.8)","d":225,"v":13.9},{"s":"Dec '16 (105.8)","d":227,"v":13.3},{"s":"Dec '16 (105.8)","d":228,"v":14.1},{"s":"Dec '16 (105.8)","d":230,"v":14.3},{"s":"Dec '16 (105.8)","d":232,"v":14.5},{"s":"Dec '16 (105.8)","d":234,"v":14.3},{"s":"Dec '16 (105.8)","d":236,"v":14.5},{"s":"Dec '16 (105.8)","d":237,"v":14.1},{"s":"Dec '16 (105.8)","d":239,"v":13.9},{"s":"Dec '16 (105.8)","d":241,"v":14.1},{"s":"Dec '16 (105.8)","d":243,"v":14.5},{"s":"Dec '16 (105.8)","d":245,"v":14.9},{"s":"Dec '16 (105.8)","d":246,"v":15.1},{"s":"Dec '16 (105.8)","d":248,"v":16.3},{"s":"Dec '16 (105.8)","d":250,"v":16.9},{"s":"Dec '16 (105.8)","d":251,"v":16.5},{"s":"Dec '16 (105.8)","d":253,"v":16.3},{"s":"Dec '16 (105.8)","d":255,"v":17.1},{"s":"Dec '16 (105.8)","d":257,"v":17.5},{"s":"Dec '16 (105.8)","d":259,"v":17.3},{"s":"Dec '16 (105.8)","d":260,"v":18.3},
{"s":"Nov '17 (107.5)","d":0,"v":0.3},{"s":"Nov '17 (107.5)","d":1,"v":0.5},{"s":"Nov '17 (107.5)","d":3,"v":1.3},{"s":"Nov '17 (107.5)","d":6,"v":1.5},{"s":"Nov '17 (107.5)","d":9,"v":2.3},{"s":"Nov '17 (107.5)","d":12,"v":2.9},{"s":"Nov '17 (107.5)","d":14,"v":2.5},{"s":"Nov '17 (107.5)","d":17,"v":3.3},{"s":"Nov '17 (107.5)","d":19,"v":3.7},{"s":"Nov '17 (107.5)","d":21,"v":4.3},{"s":"Nov '17 (107.5)","d":23,"v":4.7},{"s":"Nov '17 (107.5)","d":26,"v":4.7},{"s":"Nov '17 (107.5)","d":28,"v":4.7},{"s":"Nov '17 (107.5)","d":31,"v":4.9},{"s":"Nov '17 (107.5)","d":33,"v":4.3},{"s":"Nov '17 (107.5)","d":35,"v":5.1},{"s":"Nov '17 (107.5)","d":36,"v":6.3},{"s":"Nov '17 (107.5)","d":38,"v":7.0},{"s":"Nov '17 (107.5)","d":41,"v":8.0},{"s":"Nov '17 (107.5)","d":43,"v":8.4},{"s":"Nov '17 (107.5)","d":44,"v":9.2},{"s":"Nov '17 (107.5)","d":47,"v":10.0},{"s":"Nov '17 (107.5)","d":49,"v":10.6},{"s":"Nov '17 (107.5)","d":51,"v":10.4},{"s":"Nov '17 (107.5)","d":52,"v":12.0},{"s":"Nov '17 (107.5)","d":53,"v":10.4},{"s":"Nov '17 (107.5)","d":55,"v":10.2},{"s":"Nov '17 (107.5)","d":56,"v":7.6},{"s":"Nov '17 (107.5)","d":58,"v":3.3},{"s":"Nov '17 (107.5)","d":59,"v":4.9},{"s":"Nov '17 (107.5)","d":60,"v":4.7},{"s":"Nov '17 (107.5)","d":61,"v":0.7},{"s":"Nov '17 (107.5)","d":62,"v":3.5},{"s":"Nov '17 (107.5)","d":64,"v":3.7},{"s":"Nov '17 (107.5)","d":65,"v":3.8}
],
"tags": [
{"s":"Dec '16 (105.8)","t":"18.3","pos":18.0},
{"s":"Dec '03 (106.9)","t":"12.9","pos":12.65},
{"s":"Mar '84 (107.1)","t":"12.1","pos":10.5},
{"s":"Nov '17 (107.5)","t":"3.8","pos":3.66},
{"s":"Nov '04 (107.4)","t":"3.8","pos":1.48},
{"s":"Sept '83 (108.0)","t":"2.7","pos":-0.73}
]
},
"layer": [
{
  "mark": {"type": "rule", "color": "#404040", "strokeWidth": 1},
  "encoding": {"y": {"datum": 0, "type": "quantitative", "scale": {"domain": [-15, 20], "nice": false, "zero": false}, "axis": null}}
},
{
  "data": {"name": "series"},
  "mark": {"type": "line", "strokeWidth": 1.5, "interpolate": "linear"},
  "encoding": {
    "x": {"field": "d", "type": "quantitative", "scale": {"domain": [0, 264], "nice": false, "zero": false},
      "axis": {"title": "Days", "titlePadding": 5,
        "values": [6, 12, 23, 34.8, 45, 56, 66, 77.4, 89, 99.3, 110, 120.6, 132, 143.3, 154, 164.6, 176, 186.3, 198, 208.1, 219, 229.1, 241, 252],
        "labelExpr": "indexof([6,23,45,66,89,110,132,154,176,198,219,241], datum.value) >= 0 ? 'D' + datum.value : ''",
        "tickSize": 5,
        "tickOpacity": {"condition": {"test": "indexof([6,23,45,66,89,110,132,154,176,198,219,241], datum.value) < 0", "value": 1}, "value": 0},
        "grid": true,
        "gridOpacity": {"condition": {"test": "indexof([6,23,45,66,89,110,132,154,176,198,219,241], datum.value) < 0", "value": 1}, "value": 0},
        "labelPadding": 6}},
    "y": {"field": "v", "type": "quantitative", "scale": {"domain": [-15, 20], "nice": false, "zero": false},
      "axis": {"orient": "left", "title": null,
        "values": [-15,-14,-13,-12,-11,-10,-9,-8,-7,-6,-5,-4,-3,-2,-1,0,1,2,3,4,5,6,7,8,9,10,11,12,13,14,15,16,17,18,19,20],
        "labelExpr": "datum.value % 5 == 0 ? datum.value + '%' : ''",
        "tickSize": {"condition": {"test": "datum.value % 5 == 0", "value": 5}, "value": 3},
        "grid": true,
        "gridOpacity": {"condition": {"test": "datum.value % 5 == 0", "value": 1}, "value": 0},
        "labelPadding": 3}},
    "color": {"field": "s", "type": "nominal",
      "scale": {"domain": ["Sept '83 (108.0)", "Dec '03 (106.9)", "Dec '16 (105.8)", "Mar '84 (107.1)", "Nov '04 (107.4)", "Nov '17 (107.5)"],
                "range": ["#800000", "#0b6b0b", "#ff7018", "#0000ff", "#ff00ff", "#00ffff"]},
      "legend": {"title": null, "orient": "none", "legendX": 15, "legendY": 337, "columns": 2, "columnPadding": 150, "rowPadding": 2, "padding": 0,
        "symbolType": "M-3,0H3", "symbolSize": 114, "symbolStrokeWidth": 2, "labelOffset": 7,
        "labelFont": "Lato", "labelFontSize": 12, "labelFontWeight": "bold", "labelColor": "#000000"}}
  }
},
{
  "data": {"name": "tags"},
  "mark": {"type": "rect", "width": 34, "height": 17},
  "encoding": {
    "x": {"datum": 273.2, "type": "quantitative", "scale": {"domain": [0, 264], "nice": false, "zero": false}, "axis": null},
    "y": {"field": "pos", "type": "quantitative", "scale": {"domain": [-15, 20], "nice": false, "zero": false},
      "axis": {"orient": "right",
        "values": [-15,-14,-13,-12,-11,-10,-9,-8,-7,-6,-5,-4,-3,-2,-1,0,1,2,3,4,5,6,7,8,9,10,11,12,13,14,15,16,17,18,19,20],
        "labelExpr": "datum.value % 5 == 0 && datum.value != 0 && datum.value != 10 ? datum.value + '%' : ''",
        "labelOffset": {"condition": {"test": "datum.value == 5", "value": -2}, "value": 0},
        "tickSize": {"condition": {"test": "datum.value % 5 == 0", "value": 5}, "value": 3},
        "grid": false, "labelPadding": 3,
        "title": "Source: Thomson Reuters Datastream & HORAN Capital Advisors",
        "titleAngle": 0, "titleX": 35, "titleY": 393, "titleAlign": "right", "titleBaseline": "alphabetic",
        "titleFont": "Lato", "titleFontSize": 10, "titleFontStyle": "italic", "titleFontWeight": "normal"}},
    "fill": {"field": "s", "type": "nominal",
      "scale": {"domain": ["Sept '83 (108.0)", "Mar '84 (107.1)", "Dec '03 (106.9)", "Nov '04 (107.4)", "Dec '16 (105.8)", "Nov '17 (107.5)"],
                "range": ["#800000", "#0000ff", "#006400", "#ff00ff", "#ff6600", "#00ffff"]},
      "legend": null}
  }
},
{
  "data": {"name": "tags"},
  "mark": {"type": "text", "align": "right", "baseline": "middle", "font": "Lato", "fontSize": 12, "fontWeight": "bold", "dy": 1},
  "encoding": {
    "x": {"datum": 279.9, "type": "quantitative", "scale": {"domain": [0, 264], "nice": false, "zero": false}, "axis": null},
    "y": {"field": "pos", "type": "quantitative", "scale": {"domain": [-15, 20], "nice": false, "zero": false}, "axis": null},
    "text": {"field": "t"},
    "color": {"condition": {"test": "datum.s == \"Nov '17 (107.5)\"", "value": "#000000"}, "value": "#ffffff"}
  }
}
],
"resolve": {"axis": {"x": "independent", "y": "independent"}}
}
